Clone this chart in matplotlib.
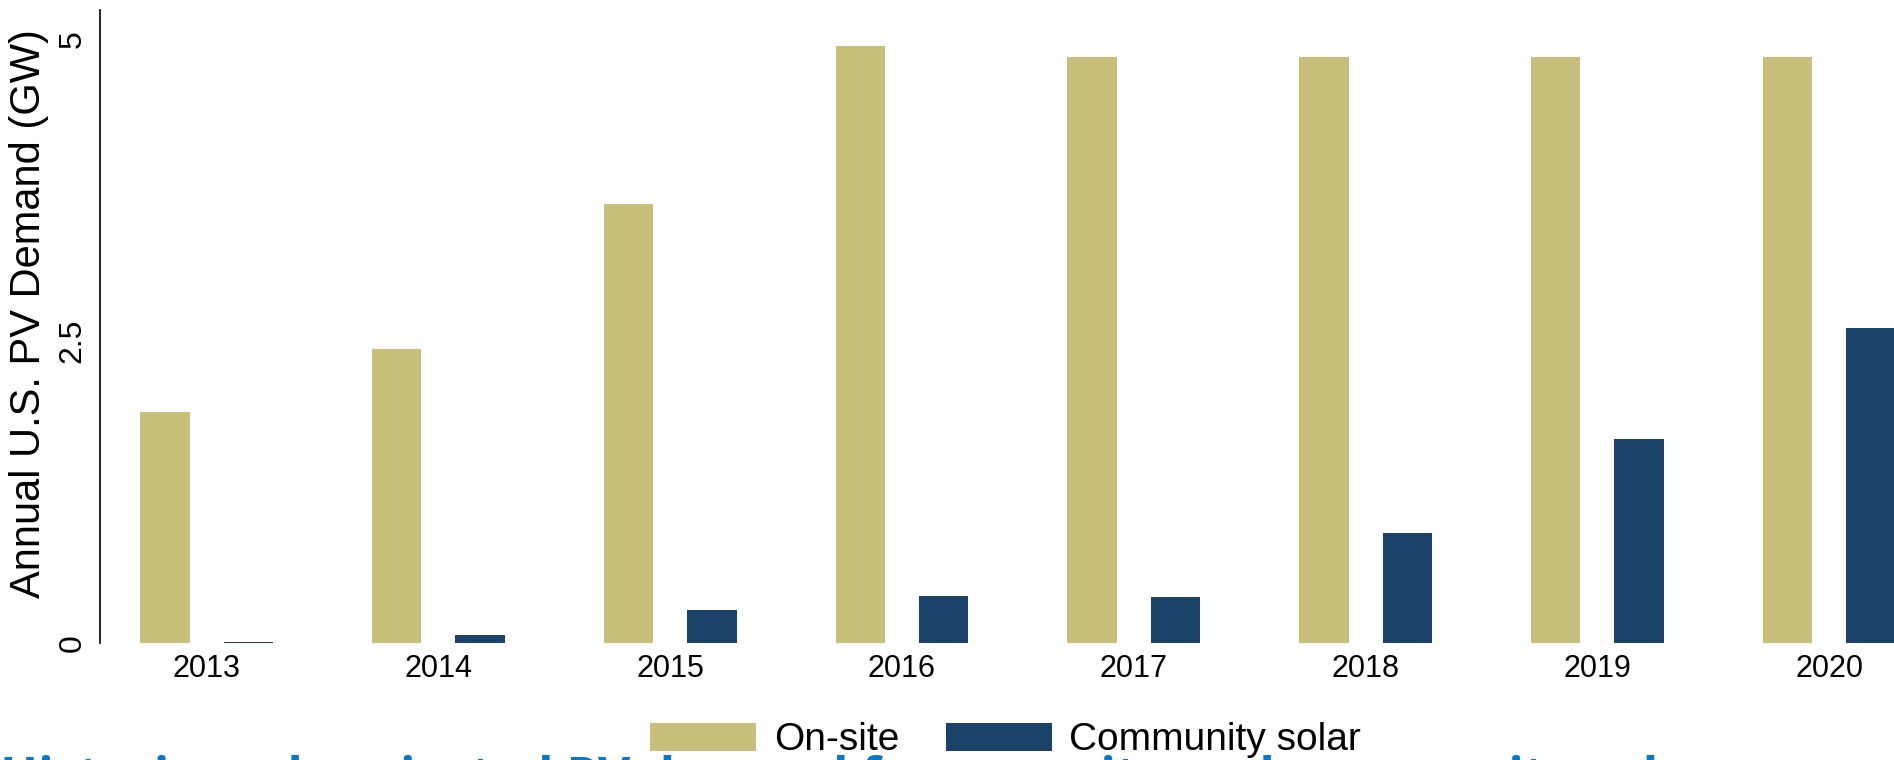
import matplotlib
matplotlib.use("Agg")
from matplotlib import pyplot as plt
import numpy as np

years = [2013, 2014, 2015, 2016, 2017, 2018, 2019, 2020]
onsite = [1.91, 2.43, 3.63, 4.94, 4.85, 4.85, 4.85, 4.85]
community = [0.01, 0.07, 0.27, 0.39, 0.38, 0.91, 1.69, 2.61]
series_labels = ["On-site", "Community solar"]
y_ticks = [0, 2.5, 5]
y_tick_labels = ["0", "2.5", "5"]

plt.rcParams['font.family'] = ['Liberation Sans', 'DejaVu Sans']

fig = plt.figure(figsize=(18.94, 7.6), dpi=100)
ax = fig.add_axes([0.0528, 0.154, 0.9472, 0.833])

x = np.array(years, dtype=float)
width = 0.2135
offset = 0.18
ax.bar(x - offset, onsite, width, color="#c8bf7c", label=series_labels[0])
ax.bar(x + offset, community, width, color="#1b436a", label=series_labels[1])

ax.set_xlim(2012.54, 2020.28)
ax.set_ylim(0, 5.24)
ax.set_xticks(years)
ax.set_xticklabels([str(y) for y in years], fontsize=22)
ax.set_yticks(y_ticks)
ax.set_yticklabels(y_tick_labels, fontsize=23, rotation=90, va="center")
ax.tick_params(axis="x", length=0, pad=8)
ax.tick_params(axis="y", length=0, pad=9)
ax.set_ylabel("Annual U.S. PV Demand (GW)", fontsize=30)
ax.yaxis.set_label_coords(-0.0285, 0.52)

for side in ["top", "right", "bottom"]:
    ax.spines[side].set_visible(False)
ax.spines["left"].set_linewidth(1.2)

fig.legend(loc="center", bbox_to_anchor=(0.531, 0.026), ncol=2, frameon=False,
           fontsize=28, handlelength=2.72, handleheight=0.72, columnspacing=1.2,
           handletextpad=0.45, borderaxespad=0, borderpad=0)

# slide title bleeding in at the bottom edge
fig.text(0.0, 0.006, "Historic and projected PV demand from on-site and community solar",
         fontsize=36, fontweight="bold", color="#0a78c6", ha="left", va="top",
         family=["Open Sans", "DejaVu Sans"])

fig.savefig("out.png", dpi=100)
